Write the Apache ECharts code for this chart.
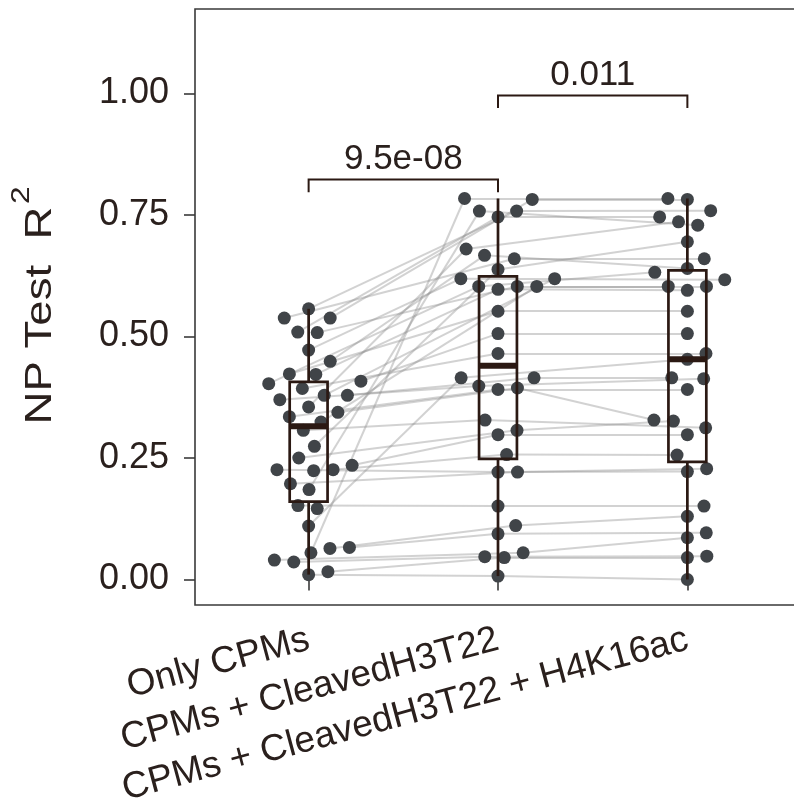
<!DOCTYPE html>
<html><head><meta charset="utf-8">
<script src="https://cdn.jsdelivr.net/npm/echarts@6/dist/echarts.min.js"></script>
<style>html,body{margin:0;padding:0;background:#fff}#c{width:794px;height:805px}</style>
</head><body><div id="c"></div>
<script>
// ---------- data ----------
const categories = ['Only CPMs', 'CPMs + CleavedH3T22', 'CPMs + CleavedH3T22 + H4K16ac'];
// one entry per sample (paired across the three models); null = no value
const onlyCPMs    = [0.557,0.538,0.538,0.509,0.508,0.472,0.449,0.423,0.422,0.408,0.403,0.393,0.379,0.379,0.370,0.355,0.344,0.335,0.324,0.307,0.274,0.250,0.235,0.226,0.226,0.224,0.197,0.185,0.152,0.146,0.110,0.066,0.064,0.055,0.040,0.036,0.016,0.010];
const plusH3T22   = [0.758,0.782,0.660,0.746,0.603,0.619,0.667,0.552,0.597,0.506,0.603,0.465,0.619,0.415,0.398,0.680,0.394,0.391,0.603,0.328,0.638,0.307,0.298,0.257,0.221,null,0.221,0.758,0.151,null,0.415,0.094,0.111,0.784,0.055,0.047,0.045,0.007];
const plusH4K16ac = [0.759,0.782,0.660,0.746,0.603,0.617,0.640,0.552,0.595,0.506,0.632,0.465,null,0.415,0.413,0.736,0.328,0.391,0.603,0.312,0.695,0.326,0.298,0.256,0.222,null,0.228,0.729,0.151,null,0.453,0.096,0.130,0.784,0.086,0.048,0.045,0.000];
const yTicks = [0, 0.25, 0.5, 0.75, 1.0];
const compareFrom = [1, 2];
const compareTo = [2, 3];
const compareLabels = ['9.5e-08', '0.011'];

// ---------- layout / style ----------
const GRID = {left: 195, top: 9, width: 606, height: 596};
const X_MIN = 0.4, X_MAX = 3.6;
const Y_MAX = 1.1739, Y_MIN = -0.0525;
const BRACKET_Y = [0.823, 0.996], TIP = 0.026;
const BOX_WIDTH = 0.2;
const SWARM_D = 19.5;           // beeswarm spacing in px
const DOT = '#404448', BOX = '#2b1913', TXT = '#2a201d', FRAME = '#3a3a3a';
const FONT = '"Liberation Sans", Arial, Helvetica, sans-serif';
const TITLE_SPAN = 238;          // px length of rotated y title

const groups = [onlyCPMs, plusH3T22, plusH4K16ac];
const pxX = GRID.width / (X_MAX - X_MIN), pxY = GRID.height / (Y_MAX - Y_MIN);

// beeswarm (swarm method, ascending priority)
function swarm(vals) {
  const order = vals.map((v, i) => i).filter(i => vals[i] != null)
    .sort((a, b) => (vals[a] - vals[b]) || (a - b));
  const placed = [], off = new Array(vals.length).fill(null);
  const D2 = SWARM_D * SWARM_D;
  for (const i of order) {
    const y = vals[i] * pxY;
    const near = placed.filter(p => Math.abs(p.y - y) < SWARM_D);
    const cands = [0];
    near.forEach(p => cands.push(p.x + Math.sqrt(D2 - (p.y - y) ** 2)));
    near.forEach(p => cands.push(p.x - Math.sqrt(D2 - (p.y - y) ** 2)));
    let best = null;
    for (const c of cands) {
      if (near.every(p => (p.x - c) ** 2 + (p.y - y) ** 2 >= D2 - 1e-6)) {
        if (best === null || Math.abs(c) < Math.abs(best) - 1e-9) best = c;
      }
    }
    placed.push({x: best, y});
    off[i] = best / pxX;
  }
  return off;
}
const offsets = groups.map(swarm);

const points = [];
groups.forEach((arr, g) => arr.forEach((v, i) => { if (v != null) points.push([g + 1 + offsets[g][i], v]); }));

const segments = [];
for (let i = 0; i < onlyCPMs.length; i++) {
  for (let g = 0; g < 2; g++) {
    const a = groups[g][i], b = groups[g + 1][i];
    if (a != null && b != null) {
      segments.push({coords: [[g + 1 + offsets[g][i], a], [g + 2 + offsets[g + 1][i], b]]});
    }
  }
}

function q7(s, p) { const h = (s.length - 1) * p, lo = Math.floor(h), hi = Math.ceil(h); return s[lo] + (h - lo) * (s[hi] - s[lo]); }
function boxStats(arr) {
  const s = arr.filter(v => v != null).sort((a, b) => a - b);
  const q1 = q7(s, 0.25), md = q7(s, 0.5), q3 = q7(s, 0.75), iqr = q3 - q1;
  const lo = s.find(v => v >= q1 - 1.5 * iqr);
  const hi = s.slice().reverse().find(v => v <= q3 + 1.5 * iqr);
  return [lo, q1, md, q3, hi];
}
const boxData = groups.map((g, k) => [k + 1].concat(boxStats(g)));
const bracketData = compareFrom.map((f, k) => [f, compareTo[k], BRACKET_Y[k], k]);

// title text measurement
const mctx = document.createElement('canvas').getContext('2d');
mctx.font = '36px ' + FONT;
const t1 = 'NP Test  R';
const w1 = mctx.measureText(t1).width;
mctx.font = '25px ' + FONT;
const w2 = mctx.measureText('2').width;
const wT = w1 + w2 + 2;
const titleScale = TITLE_SPAN / wT;

const chart = echarts.init(document.getElementById('c'), null, {renderer: 'canvas'});
chart.setOption({
  animation: false,
  backgroundColor: '#ffffff',
  grid: Object.assign({show: true, borderColor: FRAME, borderWidth: 1.6, backgroundColor: 'transparent',
    containLabel: false, outerBoundsMode: 'none'}, GRID),
  xAxis: {
    type: 'value', min: X_MIN, max: X_MAX,
    axisLine: {show: false},
    splitLine: {show: false},
    axisTick: {show: true, customValues: [1, 2, 3], length: 11, lineStyle: {color: FRAME, width: 1.6}},
    axisLabel: {customValues: [1, 2, 3], formatter: v => categories[Math.round(v) - 1],
      rotate: 15, margin: 34, fontSize: 37, color: TXT, fontFamily: FONT}
  },
  yAxis: {
    type: 'value', min: Y_MIN, max: Y_MAX,
    axisLine: {show: false},
    splitLine: {show: false},
    axisTick: {show: true, customValues: yTicks, length: 11, lineStyle: {color: FRAME, width: 1.6}},
    axisLabel: {customValues: yTicks, formatter: v => v.toFixed(2), margin: 26,
      fontSize: 36, color: TXT, fontFamily: FONT}
  },
  graphic: [{
    type: 'group', x: 41, y: 305.5, rotation: Math.PI / 2, scaleX: titleScale, scaleY: 1,
    children: [
      {type: 'text', x: -wT / 2, y: 0, style: {text: t1, font: '36px ' + FONT, fill: TXT, align: 'left', verticalAlign: 'middle'}},
      {type: 'text', x: -wT / 2 + w1 + 2, y: -19, style: {text: '2', font: '25px ' + FONT, fill: TXT, align: 'left', verticalAlign: 'middle'}}
    ]
  }],
  series: [
    {
      type: 'lines', coordinateSystem: 'cartesian2d', silent: true, z: 1,
      lineStyle: {color: '#8a8a8a', opacity: 0.38, width: 2},
      data: segments
    },
    {
      type: 'scatter', data: points, symbol: 'circle', symbolSize: 13, silent: true, z: 2,
      itemStyle: {color: DOT, opacity: 1}
    },
    {
      type: 'custom', z: 3, silent: true, data: boxData, encode: {x: 0, y: [1, 2, 3, 4, 5]},
      renderItem: (params, api) => {
        const x = api.value(0);
        const lo = api.coord([x, api.value(1)]), q1 = api.coord([x, api.value(2)]),
              md = api.coord([x, api.value(3)]), q3 = api.coord([x, api.value(4)]),
              hi = api.coord([x, api.value(5)]);
        const w = api.size([BOX_WIDTH, 0])[0];
        const st = {stroke: BOX, lineWidth: 2.7, fill: 'rgba(0,0,0,0)'};
        return {type: 'group', children: [
          {type: 'line', shape: {x1: lo[0], y1: lo[1], x2: q1[0], y2: q1[1]}, style: st},
          {type: 'line', shape: {x1: q3[0], y1: q3[1], x2: hi[0], y2: hi[1]}, style: st},
          {type: 'rect', shape: {x: q3[0] - w / 2, y: q3[1], width: w, height: q1[1] - q3[1]}, style: st},
          {type: 'line', shape: {x1: md[0] - w / 2, y1: md[1], x2: md[0] + w / 2, y2: md[1]}, style: {stroke: BOX, lineWidth: 6}}
        ]};
      }
    },
    {
      type: 'custom', z: 4, silent: true, data: bracketData, encode: {x: [0, 1], y: 2},
      renderItem: (params, api) => {
        const a = api.value(0), b = api.value(1), y = api.value(2);
        const p1 = api.coord([a, y - TIP]), p2 = api.coord([a, y]), p3 = api.coord([b, y]), p4 = api.coord([b, y - TIP]);
        const mid = api.coord([(a + b) / 2, y]);
        return {type: 'group', children: [
          {type: 'polyline', shape: {points: [p1, p2, p3, p4]}, style: {stroke: BOX, lineWidth: 2, fill: null}},
          {type: 'text', x: mid[0], y: mid[1] - 3, style: {text: compareLabels[api.value(3)], font: '35px ' + FONT, fill: TXT, align: 'center', verticalAlign: 'bottom'}}
        ]};
      }
    }
  ]
});
</script></body></html>
